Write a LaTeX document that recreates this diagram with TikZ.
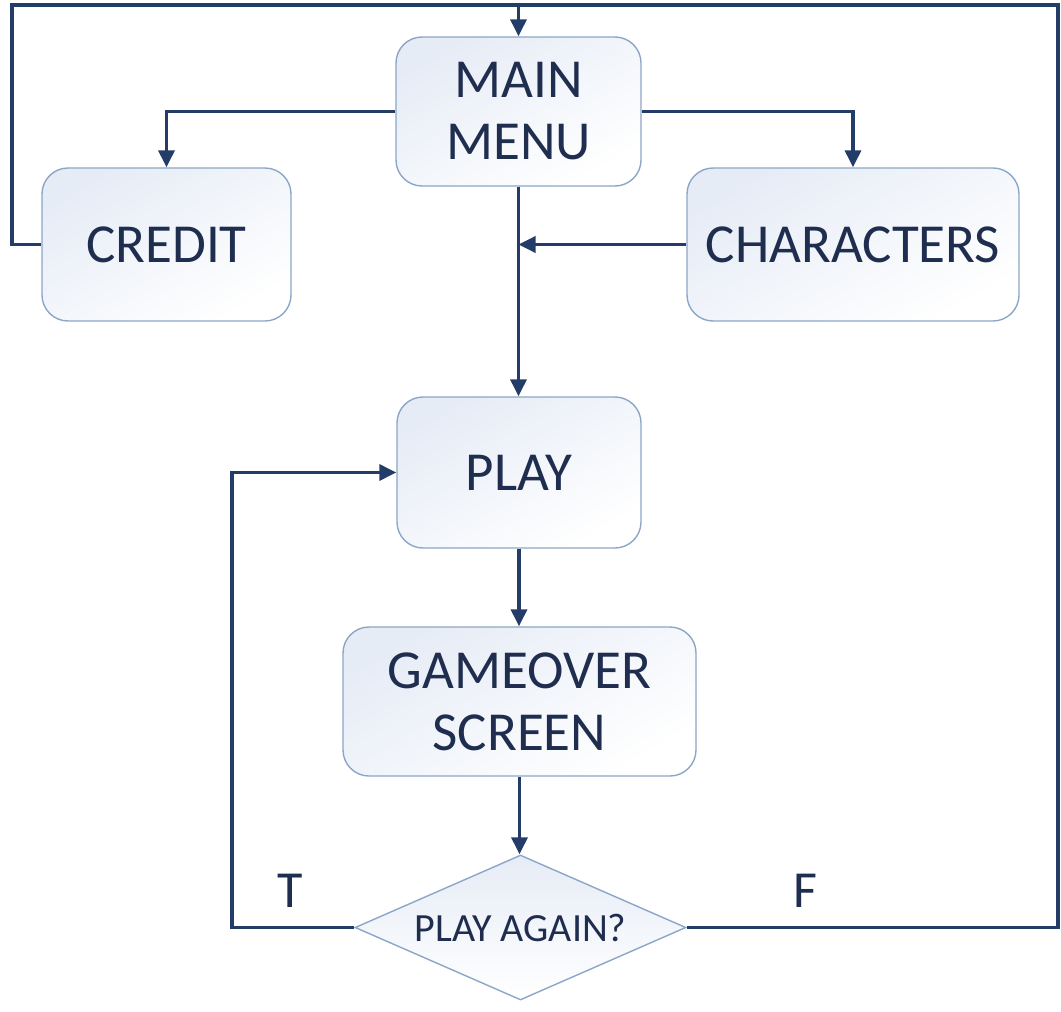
\documentclass[tikz,border=0pt]{standalone}
\usepackage{fontspec}
\setmainfont{Carlito}
\usetikzlibrary{arrows.meta,shapes.geometric}
\definecolor{navy}{HTML}{243C68}
\definecolor{txt}{HTML}{1F2D4F}
\definecolor{bord}{HTML}{8CA6C8}
\definecolor{fillA}{HTML}{E6ECF6}
\tikzset{
  box/.style={draw=bord, line width=1.4pt, rounded corners=26pt, top color=fillA, bottom color=white,
    shading angle=30, text=txt, align=center, inner sep=0pt,
    font=\fontsize{55}{62}\selectfont},
  conn/.style={draw=navy, line width=3.5pt},
  arr/.style={conn, -{Triangle[length=17pt,width=16pt]}},
  lab/.style={text=txt, font=\fontsize{52}{60}\selectfont}
}
\begin{document}
\begin{tikzpicture}[x=1pt,y=-1pt]
\useasboundingbox (0,0) rectangle (1061,1012);
\node[box, minimum width=245pt, minimum height=149pt] (main) at (518.5,111.5) {MAIN\\MENU};
\node[box, minimum width=249pt, minimum height=153pt] (credit) at (166.5,244.5) {CREDIT};
\node[box, minimum width=332pt, minimum height=153pt] (chars) at (853,244.5) {CHARACTERS};
\node[box, minimum width=244pt, minimum height=151pt] (play) at (519,472.5) {PLAY};
\node[box, minimum width=353pt, minimum height=149pt] (over) at (519.5,701.5) {GAMEOVER\\SCREEN};
\node[draw=bord, line width=1.4pt, shape=diamond, aspect=2.28, top color=fillA, bottom color=white, text=txt,
  inner sep=0pt, minimum width=331pt, minimum height=145pt,
  font=\fontsize{40}{48}\selectfont] (dia) at (520.5,927.5) {PLAY AGAIN?};
\coordinate (tl) at (12,5);
\coordinate (tr) at (1058,5);
\coordinate (lx) at (232,0);
\draw[conn] (credit.west) -| (tl) -- (tr) |- (dia.east);
\draw[arr] (main.north |- tl) -- (main.north);
\draw[arr] (main.west) -| (credit.north);
\draw[arr] (main.east) -| (chars.north);
\draw[arr] (main.south) -- (main.south |- play.north);
\draw[arr] (chars.west) -- (chars.west -| main.south);
\draw[arr] (play.south) -- (play.south |- over.north);
\draw[arr] (over.south) -- (over.south |- dia.north);
\draw[arr] (dia.west) -| (lx |- play.west) -- (play.west);
\node[lab] (t) at (290,891) {T};
\node[lab] (f) at (805,891) {F};
\end{tikzpicture}
\end{document}
